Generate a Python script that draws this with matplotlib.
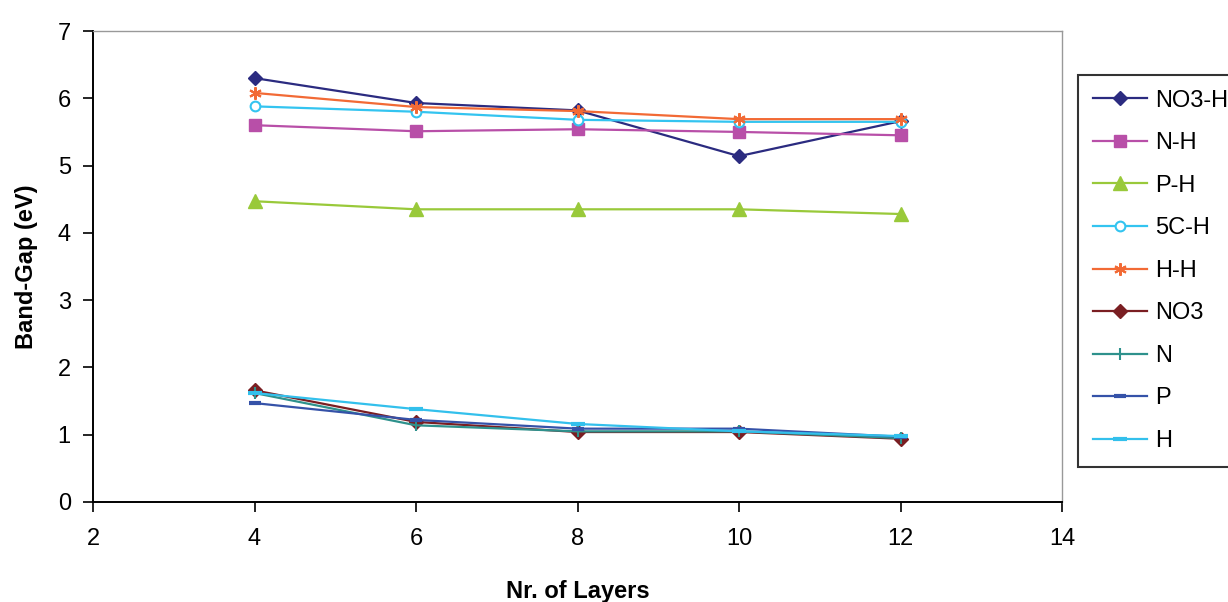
import matplotlib
matplotlib.use('Agg')
import matplotlib.pyplot as plt

layers = [4, 6, 8, 10, 12]

no3_h = [6.30, 5.93, 5.82, 5.14, 5.66]
n_h = [5.60, 5.51, 5.54, 5.50, 5.45]
p_h = [4.47, 4.35, 4.35, 4.35, 4.28]
c5_h = [5.88, 5.80, 5.68, 5.65, 5.65]
h_h = [6.08, 5.87, 5.81, 5.69, 5.69]
no3 = [1.66, 1.19, 1.04, 1.04, 0.94]
n = [1.62, 1.14, 1.05, 1.05, 0.95]
p = [1.47, 1.22, 1.09, 1.09, 0.97]
h = [1.62, 1.38, 1.16, 1.05, 0.98]

labels = ['NO3-H', 'N-H', 'P-H', '5C-H', 'H-H', 'NO3', 'N', 'P', 'H']
series = [no3_h, n_h, p_h, c5_h, h_h, no3, n, p, h]

styles = [
    dict(color='#2B2B80', marker='D', ms=7.5, mfc='#2B2B80'),
    dict(color='#B84FA8', marker='s', ms=8.5, mfc='#B84FA8'),
    dict(color='#99C93A', marker='^', ms=9.5, mfc='#99C93A'),
    dict(color='#33C4F0', marker='o', ms=7, mfc='white', mew=1.5),
    dict(color='#F26A35', marker=(6, 2, 0), ms=9, mew=1.5),
    dict(color='#7A1E22', marker='D', ms=7.5, mfc='#7A1E22'),
    dict(color='#2E918C', marker='|', ms=9, mew=1.5),
    dict(color='#3552A8', marker='_', ms=8, mew=3),
    dict(color='#33C0EC', marker='_', ms=10, mew=3),
]

plt.rcParams['font.family'] = ['Liberation Sans', 'DejaVu Sans']

fig = plt.figure(figsize=(12.28, 6.02), dpi=100)
ax = fig.add_axes([93 / 1228, 1 - 502 / 602, (1062 - 93) / 1228, (502 - 31) / 602])

for ys, lab, st in zip(series, labels, styles):
    ax.plot(layers, ys, lw=1.6, label=lab, **st)

ax.set_xlim(2, 14)
ax.set_ylim(0, 7)
ax.set_xticks([2, 4, 6, 8, 10, 12, 14])
ax.set_yticks(range(0, 8))
ax.tick_params(labelsize=17, direction='out', length=7, width=1.2)
ax.tick_params(axis='x', pad=12)
ax.tick_params(axis='y', pad=9)
for s in ['left', 'bottom']:
    ax.spines[s].set_linewidth(1.4)
for s in ['top', 'right']:
    ax.spines[s].set_color('#999999')
    ax.spines[s].set_linewidth(1.0)

ax.set_xlabel('Nr. of Layers', fontsize=17, fontweight='bold', labelpad=21)
ax.set_ylabel('Band-Gap (eV)', fontsize=17, fontweight='bold', labelpad=14)

leg = fig.legend(loc='upper left', bbox_to_anchor=(1078 / 1228, 1 - 75 / 602),
                 fontsize=17, frameon=True, fancybox=False, handlelength=2.3,
                 labelspacing=0.87, borderpad=0.62, handletextpad=0.35,
                 borderaxespad=0)
leg.get_frame().set_edgecolor('black')
leg.get_frame().set_linewidth(1.5)

fig.savefig('out.png', dpi=100)
